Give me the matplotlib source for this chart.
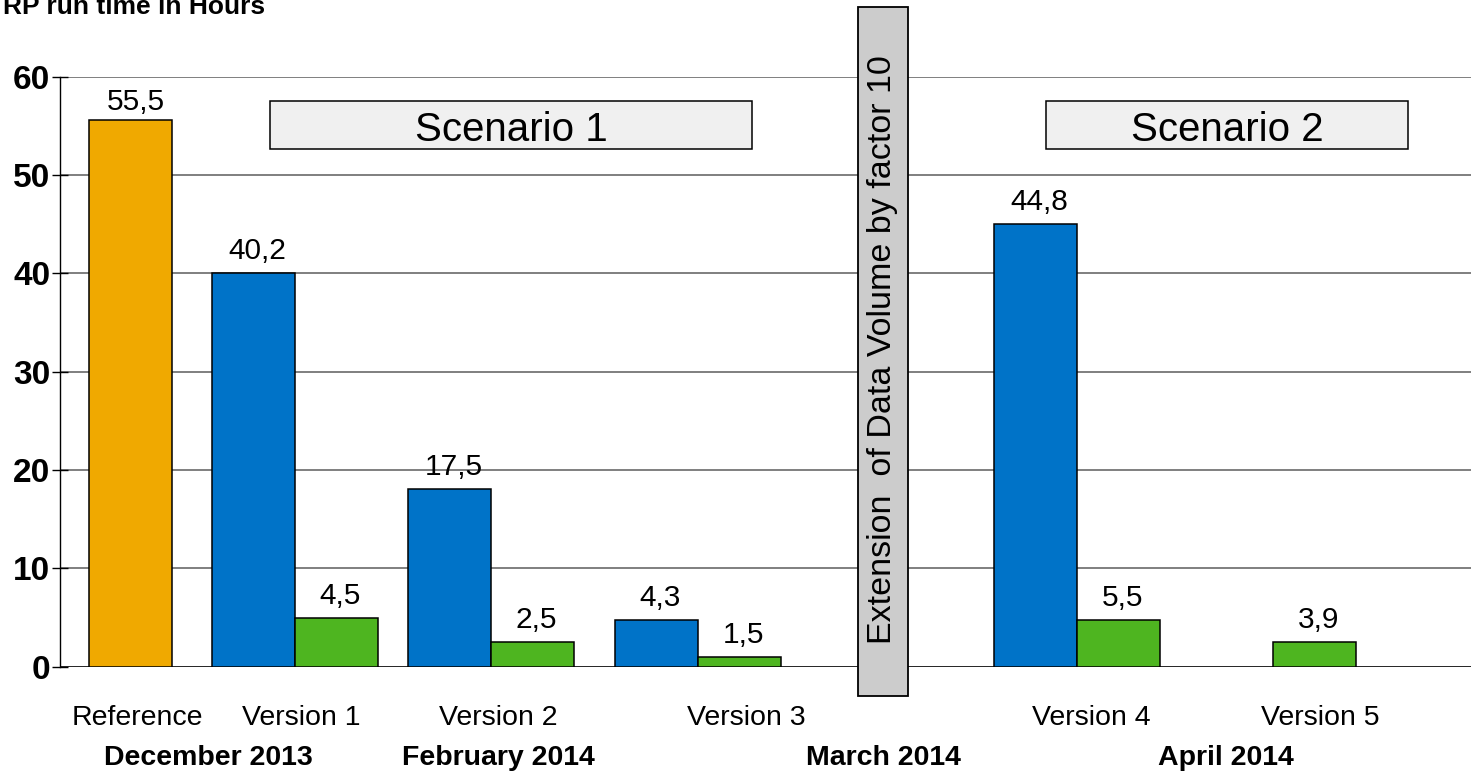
import numpy as np
import matplotlib
matplotlib.use("Agg")
import matplotlib.pyplot as plt
from matplotlib.patches import Rectangle
import matplotlib.transforms as mtransforms

plt.rcParams['font.family'] = ['Liberation Sans', 'DejaVu Sans']

# ---------------- data ----------------
title = "RP run time in Hours"
categories = ["Reference", "Version 1", "Version 2", "Version 3", "Version 4", "Version 5"]
months = ["December 2013", "February 2014", "March 2014", "April 2014"]
reference_hours = [55.6]
reference_labels = ["55,5"]
blue_hours = [40.0, 18.1, 4.7, 45.0, np.nan]     # Version 1..5
blue_labels = ["40,2", "17,5", "4,3", "44,8", ""]
green_hours = [5.0, 2.5, 0.95, 4.7, 2.5]         # Version 1..5
green_labels = ["4,5", "2,5", "1,5", "5,5", "3,9"]
scenarios = ["Scenario 1", "Scenario 2"]
extension_text = "Extension  of Data Volume by factor 10"
yticks = [0, 10, 20, 30, 40, 50, 60]

# ---------------- layout (axis x units ~ pixels) ----------------
bar_w = 83
ref_x = [70.5]
pair_x = [235, 431, 638, 1017, 1213]
cat_label_x = [77, 241, 438, 686, 1031, 1260]
month_x = [148, 438, 823, 1166]
scen_box = [(210, 692), (986, 1348)]
scen_y = (52.65, 57.5)
scen_text_baseline = 53.45
ext_box_x = (798, 848)
ext_box_y = (-3.0, 67.1)

c_orange = "#F0A900"
c_blue = "#0073C8"
c_green = "#4EB520"

W, H = 1471, 772
fig = plt.figure(figsize=(W / 100, H / 100), dpi=100)
ax = fig.add_axes([60 / W, (772 - 666.7) / H, 1411 / W, 590 / H])
ax.set_xlim(0, 1411)
ax.set_ylim(0, 60)

for s in ['top', 'right', 'bottom']:
    ax.spines[s].set_visible(False)
ax.spines['left'].set_linewidth(1.0)
ax.spines['left'].set_zorder(5)

ax.set_yticks(yticks)
ax.set_yticklabels([str(v) for v in yticks], fontsize=24, fontweight='bold')
ax.tick_params(axis='y', direction='inout', length=12, width=1.0, pad=1)
ax.set_xticks([])
for v in yticks:
    ax.axhline(v, color='#6a6a6a' if v else 'black', lw=1.2, zorder=1)

# bars
ax.bar(ref_x, reference_hours, width=bar_w, color=c_orange, edgecolor='black', lw=1.1, zorder=3)
blue_x = [p - bar_w / 2 for p in pair_x]
green_x = [p + bar_w / 2 for p in pair_x]
blue_bars = ax.bar(blue_x, np.nan_to_num(blue_hours), width=bar_w, color=c_blue,
                   edgecolor='black', lw=1.1, zorder=3)
ax.bar(green_x, green_hours, width=bar_w, color=c_green, edgecolor='black', lw=1.1, zorder=3)
for patch, h in zip(blue_bars.patches, blue_hours):
    if np.isnan(h):
        patch.set_visible(False)

off = mtransforms.offset_copy(ax.transData, fig=fig, x=4, y=14, units='dots')
lab_fs = 21.5
for x, h, t in zip(ref_x, reference_hours, reference_labels):
    ax.text(x, h, t, transform=mtransforms.offset_copy(ax.transData, fig=fig, x=5, y=10, units='dots'),
            ha='center', va='baseline', fontsize=lab_fs, zorder=6)
for x, h, t in zip(blue_x, blue_hours, blue_labels):
    if t:
        ax.text(x, h, t, transform=off, ha='center', va='baseline', fontsize=lab_fs, zorder=6)
for x, h, t in zip(green_x, green_hours, green_labels):
    ax.text(x, h, t, transform=off, ha='center', va='baseline', fontsize=lab_fs, zorder=6)

# scenario boxes
for (x0, x1), name in zip(scen_box, scenarios):
    ax.add_patch(Rectangle((x0, scen_y[0]), x1 - x0, scen_y[1] - scen_y[0],
                           facecolor='#F0F0F0', edgecolor='black', lw=1.1, zorder=4))
    ax.text((x0 + x1) / 2, scen_text_baseline, name, ha='center', va='baseline',
            fontsize=29, zorder=6)

# extension box
ax.add_patch(Rectangle((ext_box_x[0], ext_box_y[0]), ext_box_x[1] - ext_box_x[0],
                       ext_box_y[1] - ext_box_y[0], facecolor='#CCCCCC', edgecolor='black',
                       lw=1.3, zorder=4, clip_on=False))
ax.text(sum(ext_box_x) / 2, 32.3, extension_text, rotation=90,
        ha='center', va='center', fontsize=24.5, zorder=6, clip_on=False)

# category and month labels
bt = mtransforms.blended_transform_factory(ax.transData, fig.transFigure)
for x, t in zip(cat_label_x, categories):
    ax.text(x, 1 - 725 / H, t, transform=bt, ha='center', va='baseline', fontsize=20.5)
for x, t in zip(month_x, months):
    ax.text(x, 1 - 765 / H, t, transform=bt, ha='center', va='baseline',
            fontsize=20.5, fontweight='bold')

fig.text(3 / W, 1 - 14 / H, title, ha='left', va='baseline', fontsize=19, fontweight='bold')

fig.savefig("out.png", dpi=100)
